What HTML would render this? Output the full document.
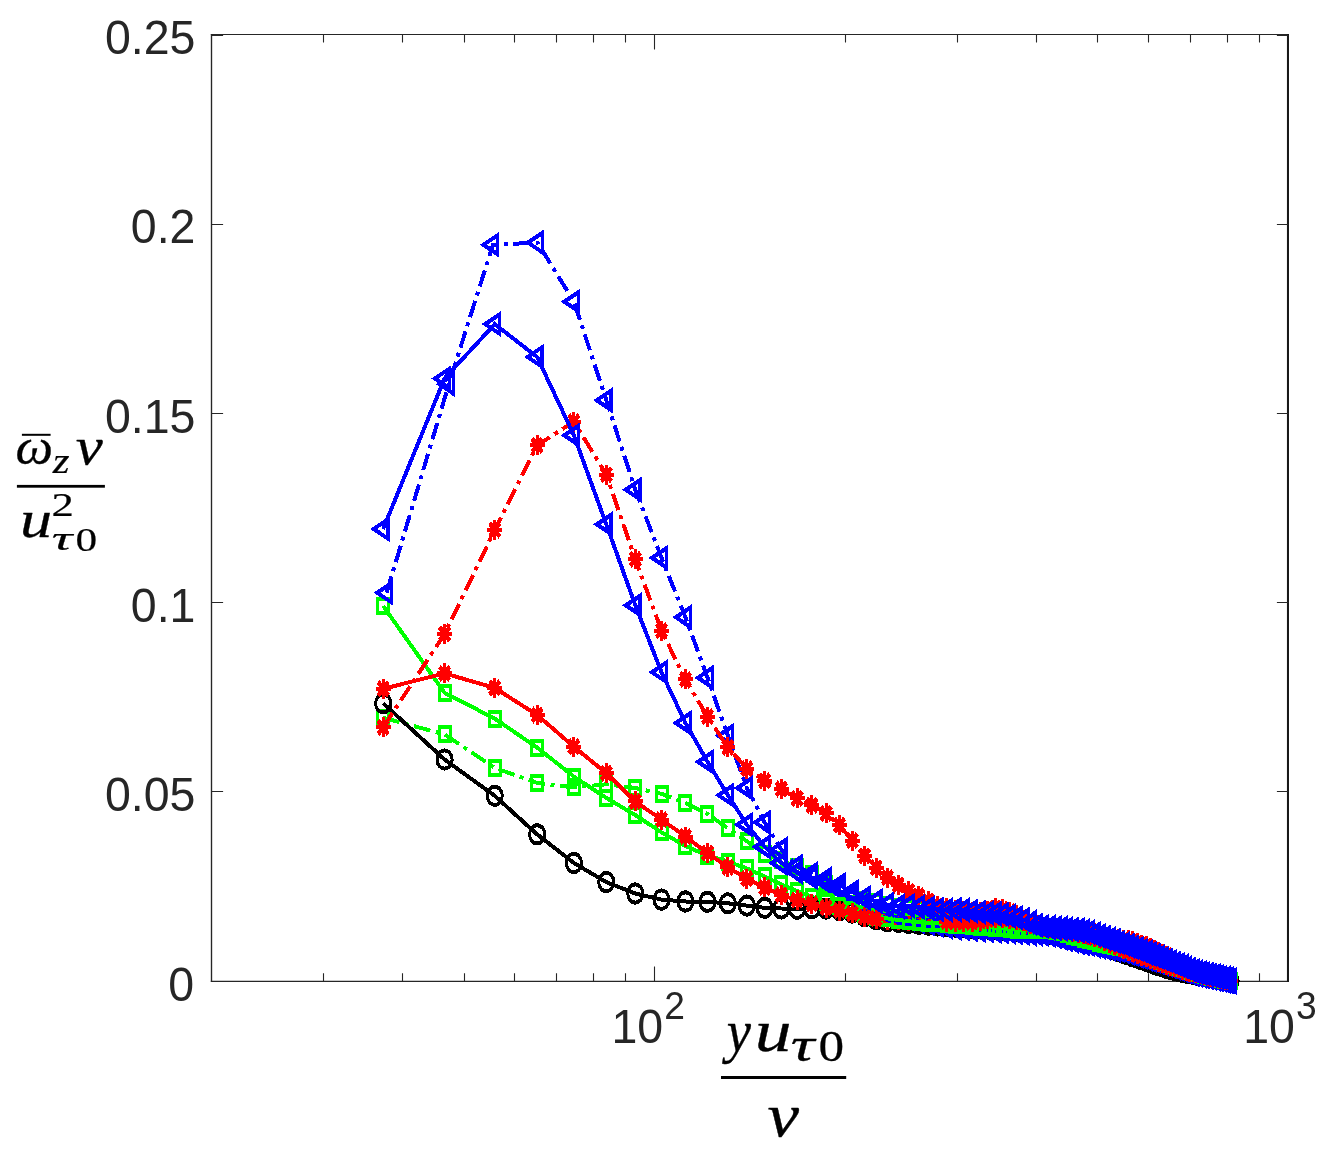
<!DOCTYPE html>
<html><head><meta charset="utf-8"><title>plot</title>
<style>html,body{margin:0;padding:0;background:#fff}svg{display:block}</style></head>
<body>
<svg width="1326" height="1149" viewBox="0 0 1326 1149">
<rect width="1326" height="1149" fill="#fff"/>
<g fill="none" stroke="#262626"><path d="M210.85 34.5H1288.99" stroke-width="1.1"/><path d="M210.85 981.4H1288.99" stroke-width="1.35"/><path d="M211.5 34V982" stroke-width="1.36"/><path d="M1287.97 34V982.05" stroke-width="2.04" stroke="#181818"/><path d="M211.5 791.5h11.6M1288.5 791.5h-11.6M211.5 602.5h11.6M1288.5 602.5h-11.6M211.5 413.5h11.6M1288.5 413.5h-11.6M211.5 224.5h11.6M1288.5 224.5h-11.6M211.5 35.5h11.6M1288.5 35.5h-11.6" stroke-width="1.15"/><path d="M654.5 981.4v-15M654.5 34.5v15M323.5 981.4v-8.1M323.5 34.5v8.1M402.5 981.4v-8.1M402.5 34.5v8.1M464.5 981.4v-8.1M464.5 34.5v8.1M514.5 981.4v-8.1M514.5 34.5v8.1M556.5 981.4v-8.1M556.5 34.5v8.1M593.5 981.4v-8.1M593.5 34.5v8.1M625.5 981.4v-8.1M625.5 34.5v8.1M845.5 981.4v-8.1M845.5 34.5v8.1M957.5 981.4v-8.1M957.5 34.5v8.1M1036.5 981.4v-8.1M1036.5 34.5v8.1M1097.5 981.4v-8.1M1097.5 34.5v8.1M1148.5 981.4v-8.1M1148.5 34.5v8.1M1190.5 981.4v-8.1M1190.5 34.5v8.1M1227.5 981.4v-8.1M1227.5 34.5v8.1M1259.5 981.4v-8.1M1259.5 34.5v8.1" stroke-width="1.1"/></g>
<g fill="none" stroke-width="3" stroke-linejoin="miter" stroke-miterlimit="10" stroke-linecap="butt" shape-rendering="crispEdges">
<g stroke="#00ff00"><polyline stroke-width="4" points="383.15,605.9 444.56,692.8 494.73,718.6 537.15,747.6 573.89,776.6 606.3,797.9 635.3,815.1 661.52,832.3 685.47,846 707.49,855.5 727.89,861.5 746.87,868.5 764.63,876.5 781.31,884.5 797.04,891 811.92,897 826.04,902"/><g transform="scale(1 1.3333333333333333)"><path d="M377.65 449.18h11v10.5h-11ZM439.06 514.35h11v10.5h-11ZM489.23 533.7h11v10.5h-11ZM531.65 555.45h11v10.5h-11ZM568.39 577.2h11v10.5h-11ZM600.8 593.18h11v10.5h-11ZM629.8 606.08h11v10.5h-11ZM656.02 618.98h11v10.5h-11ZM679.97 629.25h11v10.5h-11ZM701.99 636.38h11v10.5h-11ZM722.39 640.88h11v10.5h-11ZM741.37 646.12h11v10.5h-11ZM759.13 652.12h11v10.5h-11ZM775.81 658.12h11v10.5h-11ZM791.54 663h11v10.5h-11ZM806.42 667.5h11v10.5h-11ZM820.54 671.25h11v10.5h-11Z"/></g></g>
<g stroke="#00ff00"><polyline stroke-width="4" points="383.15,717.7 444.56,734.4 494.73,767.9 537.15,782.9 573.89,787.4 606.3,784.3 635.3,788 661.52,793.9 685.47,802.8 707.49,814 727.89,828.3 746.87,841.2 764.63,854 781.31,860.5 797.04,867 811.92,874 826.04,884 839.46,892 852.26,897 864.49,900 876.21,902.5 887.44,904.62 898.23,906.67 908.62,907.86 918.63,908.86 928.28,909.83 937.61,910.76 946.63,911.66 955.37,912.64 963.84,913.66 972.05,914.65 980.03,915.6 987.78,916.53 995.32,917.44 1002.66,918.6 1009.81,920.21 1016.77,921.77 1023.57,923.3 1030.2,924.79 1036.68,926.25 1043,927.6 1049.19,928.84 1055.23,930.05 1061.15,931.23 1066.94,932.39 1072.62,933.52 1078.18,934.95 1083.63,936.57 1088.97,938.16 1094.21,939.72 1099.36,941.25 1104.41,942.76 1109.36,944.24 1114.23,945.69 1119.02,947.11 1123.72,948.57 1128.35,950.1 1132.9,951.61 1137.37,953.09 1141.77,954.55 1146.11,955.98 1150.37,957.39 1154.58,958.78 1158.71,960.15 1162.79,961.5 1166.81,962.87 1170.77,964.33 1174.67,965.77 1178.52,967.19 1182.32,968.59 1186.06,969.97 1189.75,971.33 1193.4,972.67 1196.99,974 1200.55,974.74 1204.05,975.47 1207.51,976.19 1210.93,976.9 1214.31,977.61 1217.64,978.3 1220.94,978.99 1224.19,979.67 1227.41,980.34 1230.59,981" stroke-dasharray="17 5.5 4 5.5"/><g transform="scale(1 1.3333333333333333)"><path d="M377.65 533.03h11v10.5h-11ZM439.06 545.55h11v10.5h-11ZM489.23 570.68h11v10.5h-11ZM531.65 581.93h11v10.5h-11ZM568.39 585.3h11v10.5h-11ZM600.8 582.98h11v10.5h-11ZM629.8 585.75h11v10.5h-11ZM656.02 590.18h11v10.5h-11ZM679.97 596.85h11v10.5h-11ZM701.99 605.25h11v10.5h-11ZM722.39 615.98h11v10.5h-11ZM741.37 625.65h11v10.5h-11ZM759.13 635.25h11v10.5h-11ZM775.81 640.12h11v10.5h-11ZM791.54 645h11v10.5h-11ZM806.42 650.25h11v10.5h-11ZM820.54 657.75h11v10.5h-11ZM833.96 663.75h11v10.5h-11ZM846.76 667.5h11v10.5h-11ZM858.99 669.75h11v10.5h-11ZM870.71 671.62h11v10.5h-11ZM881.94 673.22h11v10.5h-11ZM892.73 674.75h11v10.5h-11ZM903.12 675.65h11v10.5h-11ZM913.13 676.4h11v10.5h-11ZM922.78 677.12h11v10.5h-11ZM932.11 677.82h11v10.5h-11ZM941.13 678.5h11v10.5h-11ZM949.87 679.23h11v10.5h-11ZM958.34 680h11v10.5h-11ZM966.55 680.73h11v10.5h-11ZM974.53 681.45h11v10.5h-11ZM982.28 682.15h11v10.5h-11ZM989.82 682.83h11v10.5h-11ZM997.16 683.7h11v10.5h-11ZM1004.31 684.9h11v10.5h-11ZM1011.27 686.08h11v10.5h-11ZM1018.07 687.23h11v10.5h-11ZM1024.7 688.35h11v10.5h-11ZM1031.18 689.44h11v10.5h-11ZM1037.5 690.45h11v10.5h-11ZM1043.69 691.38h11v10.5h-11ZM1049.73 692.28h11v10.5h-11ZM1055.65 693.17h11v10.5h-11ZM1061.44 694.04h11v10.5h-11ZM1067.12 694.89h11v10.5h-11ZM1072.68 695.96h11v10.5h-11ZM1078.13 697.18h11v10.5h-11ZM1083.47 698.37h11v10.5h-11ZM1088.71 699.54h11v10.5h-11ZM1093.86 700.69h11v10.5h-11ZM1098.91 701.82h11v10.5h-11ZM1103.86 702.93h11v10.5h-11ZM1108.73 704.02h11v10.5h-11ZM1113.52 705.08h11v10.5h-11ZM1118.22 706.18h11v10.5h-11ZM1122.85 707.33h11v10.5h-11ZM1127.4 708.46h11v10.5h-11ZM1131.87 709.57h11v10.5h-11ZM1136.27 710.66h11v10.5h-11ZM1140.61 711.74h11v10.5h-11ZM1144.87 712.8h11v10.5h-11ZM1149.08 713.84h11v10.5h-11ZM1153.21 714.87h11v10.5h-11ZM1157.29 715.88h11v10.5h-11ZM1161.31 716.9h11v10.5h-11ZM1165.27 718h11v10.5h-11ZM1169.17 719.08h11v10.5h-11ZM1173.02 720.14h11v10.5h-11ZM1176.82 721.19h11v10.5h-11ZM1180.56 722.23h11v10.5h-11ZM1184.25 723.25h11v10.5h-11ZM1187.9 724.25h11v10.5h-11ZM1191.49 725.25h11v10.5h-11ZM1195.05 725.8h11v10.5h-11ZM1198.55 726.35h11v10.5h-11ZM1202.01 726.89h11v10.5h-11ZM1205.43 727.43h11v10.5h-11ZM1208.81 727.95h11v10.5h-11ZM1212.14 728.48h11v10.5h-11ZM1215.44 728.99h11v10.5h-11ZM1218.69 729.5h11v10.5h-11ZM1221.91 730h11v10.5h-11ZM1225.09 730.5h11v10.5h-11Z"/></g></g>
<g stroke="#000000"><polyline stroke-width="4" points="383.15,703.3 444.56,759.5 494.73,795.8 537.15,834.4 573.89,863 606.3,882.1 635.3,893.5 661.52,899.6 685.47,901.5 707.49,901.8 727.89,903.3 746.87,905.6 764.63,907.8 781.31,908.5 797.04,908.8 811.92,908.2 826.04,908.6 839.46,910.2 852.26,912.6 864.49,916.3 876.21,919.3 887.44,921.3 898.23,922 908.62,923 918.63,923.84 928.28,924.65 937.61,925.43 946.63,926.19 955.37,926.71 963.84,927.22 972.05,927.7 980.03,928.18 987.78,928.64 995.32,929.1 1002.66,929.58 1009.81,930.04 1016.77,930.49 1023.57,930.93 1030.2,931.36 1036.68,931.78 1043,932.51 1049.19,933.57 1055.23,934.61 1061.15,935.62 1066.94,936.61 1072.62,937.58 1078.18,938.55 1083.63,940.03 1088.97,941.49 1094.21,942.92 1099.36,944.32 1104.41,946.06 1109.36,947.82 1114.23,949.55 1119.02,951.24 1123.72,952.91 1128.35,954.53 1132.9,956.13 1137.37,957.7 1141.77,959.25 1146.11,960.78 1150.37,962.28 1154.58,963.75 1158.71,965.21 1162.79,966.64 1166.81,967.95 1170.77,968.94 1174.67,969.92 1178.52,970.88 1182.32,971.83 1186.06,972.68 1189.75,973.29 1193.4,973.9 1196.99,974.5 1200.55,975.11 1204.05,975.82 1207.51,976.52 1210.93,977.21 1214.31,977.9 1217.64,978.57 1220.94,979.24 1224.19,979.9 1227.41,980.55 1230.59,981.2"/><g transform="scale(1 1.3333333333333333)"><path d="M375.6 527.48a7.55 6.85 0 1 0 15.1 0a7.55 6.85 0 1 0 -15.1 0ZM437.01 569.62a7.55 6.85 0 1 0 15.1 0a7.55 6.85 0 1 0 -15.1 0ZM487.18 596.85a7.55 6.85 0 1 0 15.1 0a7.55 6.85 0 1 0 -15.1 0ZM529.6 625.8a7.55 6.85 0 1 0 15.1 0a7.55 6.85 0 1 0 -15.1 0ZM566.34 647.25a7.55 6.85 0 1 0 15.1 0a7.55 6.85 0 1 0 -15.1 0ZM598.75 661.58a7.55 6.85 0 1 0 15.1 0a7.55 6.85 0 1 0 -15.1 0ZM627.75 670.12a7.55 6.85 0 1 0 15.1 0a7.55 6.85 0 1 0 -15.1 0ZM653.97 674.7a7.55 6.85 0 1 0 15.1 0a7.55 6.85 0 1 0 -15.1 0ZM677.92 676.12a7.55 6.85 0 1 0 15.1 0a7.55 6.85 0 1 0 -15.1 0ZM699.94 676.35a7.55 6.85 0 1 0 15.1 0a7.55 6.85 0 1 0 -15.1 0ZM720.34 677.48a7.55 6.85 0 1 0 15.1 0a7.55 6.85 0 1 0 -15.1 0ZM739.32 679.2a7.55 6.85 0 1 0 15.1 0a7.55 6.85 0 1 0 -15.1 0ZM757.08 680.85a7.55 6.85 0 1 0 15.1 0a7.55 6.85 0 1 0 -15.1 0ZM773.76 681.38a7.55 6.85 0 1 0 15.1 0a7.55 6.85 0 1 0 -15.1 0ZM789.49 681.6a7.55 6.85 0 1 0 15.1 0a7.55 6.85 0 1 0 -15.1 0ZM804.37 681.15a7.55 6.85 0 1 0 15.1 0a7.55 6.85 0 1 0 -15.1 0ZM818.49 681.45a7.55 6.85 0 1 0 15.1 0a7.55 6.85 0 1 0 -15.1 0ZM831.91 682.65a7.55 6.85 0 1 0 15.1 0a7.55 6.85 0 1 0 -15.1 0ZM844.71 684.45a7.55 6.85 0 1 0 15.1 0a7.55 6.85 0 1 0 -15.1 0ZM856.94 687.23a7.55 6.85 0 1 0 15.1 0a7.55 6.85 0 1 0 -15.1 0ZM868.66 689.48a7.55 6.85 0 1 0 15.1 0a7.55 6.85 0 1 0 -15.1 0ZM879.89 690.98a7.55 6.85 0 1 0 15.1 0a7.55 6.85 0 1 0 -15.1 0ZM890.68 691.5a7.55 6.85 0 1 0 15.1 0a7.55 6.85 0 1 0 -15.1 0ZM901.07 692.25a7.55 6.85 0 1 0 15.1 0a7.55 6.85 0 1 0 -15.1 0ZM911.08 692.88a7.55 6.85 0 1 0 15.1 0a7.55 6.85 0 1 0 -15.1 0ZM920.73 693.49a7.55 6.85 0 1 0 15.1 0a7.55 6.85 0 1 0 -15.1 0ZM930.06 694.07a7.55 6.85 0 1 0 15.1 0a7.55 6.85 0 1 0 -15.1 0ZM939.08 694.64a7.55 6.85 0 1 0 15.1 0a7.55 6.85 0 1 0 -15.1 0ZM947.82 695.03a7.55 6.85 0 1 0 15.1 0a7.55 6.85 0 1 0 -15.1 0ZM956.29 695.41a7.55 6.85 0 1 0 15.1 0a7.55 6.85 0 1 0 -15.1 0ZM964.5 695.78a7.55 6.85 0 1 0 15.1 0a7.55 6.85 0 1 0 -15.1 0ZM972.48 696.13a7.55 6.85 0 1 0 15.1 0a7.55 6.85 0 1 0 -15.1 0ZM980.23 696.48a7.55 6.85 0 1 0 15.1 0a7.55 6.85 0 1 0 -15.1 0ZM987.77 696.82a7.55 6.85 0 1 0 15.1 0a7.55 6.85 0 1 0 -15.1 0ZM995.11 697.18a7.55 6.85 0 1 0 15.1 0a7.55 6.85 0 1 0 -15.1 0ZM1002.26 697.53a7.55 6.85 0 1 0 15.1 0a7.55 6.85 0 1 0 -15.1 0ZM1009.22 697.87a7.55 6.85 0 1 0 15.1 0a7.55 6.85 0 1 0 -15.1 0ZM1016.02 698.2a7.55 6.85 0 1 0 15.1 0a7.55 6.85 0 1 0 -15.1 0ZM1022.65 698.52a7.55 6.85 0 1 0 15.1 0a7.55 6.85 0 1 0 -15.1 0ZM1029.13 698.84a7.55 6.85 0 1 0 15.1 0a7.55 6.85 0 1 0 -15.1 0ZM1035.45 699.39a7.55 6.85 0 1 0 15.1 0a7.55 6.85 0 1 0 -15.1 0ZM1041.64 700.18a7.55 6.85 0 1 0 15.1 0a7.55 6.85 0 1 0 -15.1 0ZM1047.68 700.95a7.55 6.85 0 1 0 15.1 0a7.55 6.85 0 1 0 -15.1 0ZM1053.6 701.71a7.55 6.85 0 1 0 15.1 0a7.55 6.85 0 1 0 -15.1 0ZM1059.39 702.46a7.55 6.85 0 1 0 15.1 0a7.55 6.85 0 1 0 -15.1 0ZM1065.07 703.18a7.55 6.85 0 1 0 15.1 0a7.55 6.85 0 1 0 -15.1 0ZM1070.63 703.91a7.55 6.85 0 1 0 15.1 0a7.55 6.85 0 1 0 -15.1 0ZM1076.08 705.03a7.55 6.85 0 1 0 15.1 0a7.55 6.85 0 1 0 -15.1 0ZM1081.42 706.12a7.55 6.85 0 1 0 15.1 0a7.55 6.85 0 1 0 -15.1 0ZM1086.66 707.19a7.55 6.85 0 1 0 15.1 0a7.55 6.85 0 1 0 -15.1 0ZM1091.81 708.24a7.55 6.85 0 1 0 15.1 0a7.55 6.85 0 1 0 -15.1 0ZM1096.86 709.55a7.55 6.85 0 1 0 15.1 0a7.55 6.85 0 1 0 -15.1 0ZM1101.81 710.86a7.55 6.85 0 1 0 15.1 0a7.55 6.85 0 1 0 -15.1 0ZM1106.68 712.16a7.55 6.85 0 1 0 15.1 0a7.55 6.85 0 1 0 -15.1 0ZM1111.47 713.43a7.55 6.85 0 1 0 15.1 0a7.55 6.85 0 1 0 -15.1 0ZM1116.17 714.68a7.55 6.85 0 1 0 15.1 0a7.55 6.85 0 1 0 -15.1 0ZM1120.8 715.9a7.55 6.85 0 1 0 15.1 0a7.55 6.85 0 1 0 -15.1 0ZM1125.35 717.1a7.55 6.85 0 1 0 15.1 0a7.55 6.85 0 1 0 -15.1 0ZM1129.82 718.28a7.55 6.85 0 1 0 15.1 0a7.55 6.85 0 1 0 -15.1 0ZM1134.22 719.44a7.55 6.85 0 1 0 15.1 0a7.55 6.85 0 1 0 -15.1 0ZM1138.56 720.58a7.55 6.85 0 1 0 15.1 0a7.55 6.85 0 1 0 -15.1 0ZM1142.82 721.71a7.55 6.85 0 1 0 15.1 0a7.55 6.85 0 1 0 -15.1 0ZM1147.03 722.82a7.55 6.85 0 1 0 15.1 0a7.55 6.85 0 1 0 -15.1 0ZM1151.16 723.91a7.55 6.85 0 1 0 15.1 0a7.55 6.85 0 1 0 -15.1 0ZM1155.24 724.98a7.55 6.85 0 1 0 15.1 0a7.55 6.85 0 1 0 -15.1 0ZM1159.26 725.96a7.55 6.85 0 1 0 15.1 0a7.55 6.85 0 1 0 -15.1 0ZM1163.22 726.71a7.55 6.85 0 1 0 15.1 0a7.55 6.85 0 1 0 -15.1 0ZM1167.12 727.44a7.55 6.85 0 1 0 15.1 0a7.55 6.85 0 1 0 -15.1 0ZM1170.97 728.16a7.55 6.85 0 1 0 15.1 0a7.55 6.85 0 1 0 -15.1 0ZM1174.77 728.87a7.55 6.85 0 1 0 15.1 0a7.55 6.85 0 1 0 -15.1 0ZM1178.51 729.51a7.55 6.85 0 1 0 15.1 0a7.55 6.85 0 1 0 -15.1 0ZM1182.2 729.97a7.55 6.85 0 1 0 15.1 0a7.55 6.85 0 1 0 -15.1 0ZM1185.85 730.42a7.55 6.85 0 1 0 15.1 0a7.55 6.85 0 1 0 -15.1 0ZM1189.44 730.87a7.55 6.85 0 1 0 15.1 0a7.55 6.85 0 1 0 -15.1 0ZM1193 731.33a7.55 6.85 0 1 0 15.1 0a7.55 6.85 0 1 0 -15.1 0ZM1196.5 731.87a7.55 6.85 0 1 0 15.1 0a7.55 6.85 0 1 0 -15.1 0ZM1199.96 732.39a7.55 6.85 0 1 0 15.1 0a7.55 6.85 0 1 0 -15.1 0ZM1203.38 732.91a7.55 6.85 0 1 0 15.1 0a7.55 6.85 0 1 0 -15.1 0ZM1206.76 733.42a7.55 6.85 0 1 0 15.1 0a7.55 6.85 0 1 0 -15.1 0ZM1210.09 733.93a7.55 6.85 0 1 0 15.1 0a7.55 6.85 0 1 0 -15.1 0ZM1213.39 734.43a7.55 6.85 0 1 0 15.1 0a7.55 6.85 0 1 0 -15.1 0ZM1216.64 734.93a7.55 6.85 0 1 0 15.1 0a7.55 6.85 0 1 0 -15.1 0ZM1219.86 735.42a7.55 6.85 0 1 0 15.1 0a7.55 6.85 0 1 0 -15.1 0ZM1223.04 735.9a7.55 6.85 0 1 0 15.1 0a7.55 6.85 0 1 0 -15.1 0Z"/></g></g>
<g stroke="#ff0000"><polyline stroke-width="4" points="876.21,918.8 887.44,919.5 898.23,920.16 908.62,920.79 918.63,921.21 928.28,921.5 937.61,921.5 946.63,921.5"/><g transform="scale(1 1.3333333333333333)"><path d="M868.71 689.1h15M876.21 681.6v15M879.94 689.63h15M887.44 682.13v15M890.73 690.12h15M898.23 682.62v15M901.12 690.6h15M908.62 683.1v15M911.13 690.91h15M918.63 683.41v15M920.78 691.12h15M928.28 683.62v15M930.11 691.12h15M937.61 683.62v15M939.13 691.13h15M946.63 683.63v15"/><path stroke-width="4" d="M871.12 684.01l10.18 10.18M871.12 694.19l10.18 -10.18M882.35 684.54l10.18 10.18M882.35 694.72l10.18 -10.18M893.14 685.03l10.18 10.18M893.14 695.21l10.18 -10.18M903.53 685.5l10.18 10.18M903.53 695.69l10.18 -10.18M913.53 685.81l10.18 10.18M913.53 696l10.18 -10.18M923.19 686.03l10.18 10.18M923.19 696.22l10.18 -10.18M932.52 686.03l10.18 10.18M932.52 696.22l10.18 -10.18M941.54 686.03l10.18 10.18M941.54 696.22l10.18 -10.18"/></g></g>
<g stroke="#0000ff"><polyline stroke-width="4" points="386.65,592.7 448.86,384.2 492.93,244.8 537.45,242.6 573.89,301.6 606.3,400.2 635.3,489.8 661.52,557.8 685.47,617.3 707.49,677.7 727.89,735.7 746.87,788 764.63,822.4 781.31,849.5 797.04,866.2 811.92,874 826.04,882 839.46,889.5 852.26,897 864.49,903.5 876.21,909.4 887.44,913.41 898.23,916.41 908.62,918.9 918.63,921.41 928.28,923.4 937.61,925.18 946.63,926.9 955.37,927.88 963.84,928.82 972.05,929.74 980.03,930.47 987.78,930.73 995.32,931.08 1002.66,931.59 1009.81,932.08 1016.77,932.56 1023.57,933.03 1030.2,933.49 1036.68,933.95 1043,934.4 1049.19,934.84 1055.23,936.37 1061.15,938.04 1066.94,939.62 1072.62,940.94 1078.18,942.23 1083.63,943.5 1088.97,944.58 1094.21,945.62 1099.36,946.64 1104.41,947.64 1109.36,948.62 1114.23,949.58 1119.02,950.53 1123.72,951.61 1128.35,953.06 1132.9,954.49 1137.37,955.89 1141.77,957.27 1146.11,958.63 1150.37,959.97 1154.58,961.28 1158.71,962.58 1162.79,963.86 1166.81,965.15 1170.77,966.51 1174.67,967.86 1178.52,969.19 1182.32,970.49 1186.06,971.79 1189.75,973.06 1193.4,974.32 1196.99,975.25 1200.55,975.99 1204.05,976.71 1207.51,977.43 1210.93,978.13 1214.31,978.83 1217.64,979.52 1220.94,980.2 1224.19,980.88 1227.41,981.54 1230.59,982.2" stroke-dasharray="17 5.5 4 5.5"/><g transform="scale(1 1.3333333333333333)"><path stroke-width="3.3" d="M377.09 444.53L391.44 437.33L391.44 451.73ZM439.29 288.15L453.64 280.95L453.64 295.35ZM483.36 183.6L497.71 176.4L497.71 190.8ZM527.88 181.95L542.23 174.75L542.23 189.15ZM564.33 226.2L578.68 219L578.68 233.4ZM596.74 300.15L611.09 292.95L611.09 307.35ZM625.73 367.35L640.08 360.15L640.08 374.55ZM651.96 418.35L666.31 411.15L666.31 425.55ZM675.9 462.97L690.25 455.77L690.25 470.17ZM697.93 508.28L712.28 501.08L712.28 515.48ZM718.32 551.78L732.67 544.58L732.67 558.98ZM737.31 591L751.66 583.8L751.66 598.2ZM755.06 616.8L769.41 609.6L769.41 624ZM771.75 637.12L786.1 629.92L786.1 644.33ZM787.48 649.65L801.83 642.45L801.83 656.85ZM802.35 655.5L816.7 648.3L816.7 662.7ZM816.47 661.5L830.82 654.3L830.82 668.7ZM829.89 667.12L844.24 659.92L844.24 674.33ZM842.7 672.75L857.05 665.55L857.05 679.95ZM854.93 677.62L869.28 670.42L869.28 684.83ZM866.64 682.05L880.99 674.85L880.99 689.25ZM877.87 685.06L892.22 677.86L892.22 692.26ZM888.67 687.31L903.02 680.11L903.02 694.51ZM899.05 689.18L913.4 681.98L913.4 696.38ZM909.06 691.05L923.41 683.85L923.41 698.25ZM918.71 692.55L933.06 685.35L933.06 699.75ZM928.04 693.89L942.39 686.69L942.39 701.09ZM937.07 695.18L951.42 687.98L951.42 702.38ZM945.8 695.91L960.15 688.71L960.15 703.11ZM954.27 696.62L968.62 689.42L968.62 703.82ZM962.49 697.3L976.84 690.1L976.84 704.5ZM970.46 697.85L984.81 690.65L984.81 705.05ZM978.21 698.05L992.56 690.85L992.56 705.25ZM985.75 698.31L1000.1 691.11L1000.1 705.51ZM993.09 698.69L1007.44 691.49L1007.44 705.89ZM1000.24 699.06L1014.59 691.86L1014.59 706.26ZM1007.21 699.42L1021.56 692.22L1021.56 706.62ZM1014 699.77L1028.35 692.57L1028.35 706.97ZM1020.63 700.11L1034.98 692.91L1034.98 707.31ZM1027.11 700.46L1041.46 693.26L1041.46 707.66ZM1033.43 700.8L1047.78 693.6L1047.78 708ZM1039.62 701.13L1053.97 693.93L1053.97 708.33ZM1045.67 702.28L1060.02 695.08L1060.02 709.48ZM1051.58 703.53L1065.93 696.33L1065.93 710.73ZM1057.38 704.71L1071.73 697.51L1071.73 711.91ZM1063.05 705.7L1077.4 698.5L1077.4 712.9ZM1068.61 706.67L1082.96 699.47L1082.96 713.87ZM1074.06 707.62L1088.41 700.42L1088.41 714.82ZM1079.4 708.44L1093.75 701.24L1093.75 715.64ZM1084.65 709.22L1099 702.02L1099 716.42ZM1089.79 709.98L1104.14 702.78L1104.14 717.18ZM1094.84 710.73L1109.19 703.53L1109.19 717.93ZM1099.8 711.47L1114.15 704.27L1114.15 718.67ZM1104.67 712.19L1119.02 704.99L1119.02 719.39ZM1109.45 712.9L1123.8 705.7L1123.8 720.1ZM1114.16 713.71L1128.51 706.51L1128.51 720.91ZM1118.78 714.8L1133.13 707.6L1133.13 722ZM1123.33 715.87L1137.68 708.67L1137.68 723.07ZM1127.81 716.92L1142.16 709.72L1142.16 724.12ZM1132.21 717.95L1146.56 710.75L1146.56 725.15ZM1136.54 718.97L1150.89 711.77L1150.89 726.17ZM1140.81 719.97L1155.16 712.77L1155.16 727.17ZM1145.01 720.96L1159.36 713.76L1159.36 728.16ZM1149.15 721.93L1163.5 714.73L1163.5 729.13ZM1153.22 722.89L1167.57 715.69L1167.57 730.09ZM1157.24 723.86L1171.59 716.66L1171.59 731.06ZM1161.2 724.88L1175.55 717.68L1175.55 732.08ZM1165.1 725.89L1179.45 718.69L1179.45 733.09ZM1168.95 726.89L1183.3 719.69L1183.3 734.09ZM1172.75 727.87L1187.1 720.67L1187.1 735.07ZM1176.49 728.84L1190.84 721.64L1190.84 736.04ZM1180.19 729.79L1194.54 722.59L1194.54 736.99ZM1183.83 730.74L1198.18 723.54L1198.18 737.94ZM1187.43 731.44L1201.78 724.24L1201.78 738.64ZM1190.98 731.99L1205.33 724.79L1205.33 739.19ZM1194.48 732.53L1208.83 725.33L1208.83 739.73ZM1197.95 733.07L1212.3 725.87L1212.3 740.27ZM1201.36 733.6L1215.71 726.4L1215.71 740.8ZM1204.74 734.12L1219.09 726.92L1219.09 741.32ZM1208.08 734.64L1222.43 727.44L1222.43 741.84ZM1211.37 735.15L1225.72 727.95L1225.72 742.35ZM1214.63 735.66L1228.98 728.46L1228.98 742.86ZM1217.85 736.16L1232.2 728.96L1232.2 743.36ZM1221.03 736.65L1235.38 729.45L1235.38 743.85Z"/></g></g>
<g stroke="#ff0000"><polyline stroke-width="4" points="383.15,727.3 444.56,634 494.73,530 537.15,445.3 573.89,421.7 606.3,474.6 635.3,559.3 661.52,630.7 685.47,679.5 707.49,716.7 727.89,747.3 746.87,768.6 764.63,780.8 781.31,789 797.04,798.4 811.92,805.2 826.04,813.4 839.46,825.2 852.26,840.5 864.49,855.9 876.21,867.7 887.44,877.6 898.23,884.9 908.62,891.2 918.63,895.7 928.28,901 937.61,906 946.63,908 955.37,910 963.84,911 972.05,912 980.03,912 987.78,911 995.32,908 1002.66,909 1009.81,911.6 1016.77,915 1023.57,920 1030.2,925 1036.68,926.31 1043,927.59 1049.19,928.84 1055.23,929.21 1061.15,929.45 1066.94,929.68 1072.62,929.9 1078.18,930.51 1083.63,931.38 1088.97,932.24 1094.21,933.07 1099.36,933.9 1104.41,935.1 1109.36,936.34 1114.23,937.56 1119.02,938.75 1123.72,939.66 1128.35,940.49 1132.9,941.3 1137.37,943.05 1141.77,944.78 1146.11,946.48 1150.37,948.18 1154.58,950.21 1158.71,952.21 1162.79,954.18 1166.81,956.12 1170.77,958.42 1174.67,960.78 1178.52,963.1 1182.32,965.09 1186.06,966.85 1189.75,968.59 1193.4,970.3 1196.99,972 1200.55,972.94 1204.05,973.87 1207.51,974.78 1210.93,975.69 1214.31,976.58 1217.64,977.47 1220.94,978.34 1224.19,979.2 1227.41,980.06 1230.59,980.9" stroke-dasharray="17 5.5 4 5.5"/><g transform="scale(1 1.3333333333333333)"><path d="M375.65 545.48h15M383.15 537.98v15M437.06 475.5h15M444.56 468v15M487.23 397.5h15M494.73 390v15M529.65 333.98h15M537.15 326.48v15M566.39 316.28h15M573.89 308.78v15M598.8 355.95h15M606.3 348.45v15M627.8 419.47h15M635.3 411.97v15M654.02 473.03h15M661.52 465.53v15M677.97 509.62h15M685.47 502.12v15M699.99 537.53h15M707.49 530.03v15M720.39 560.48h15M727.89 552.98v15M739.37 576.45h15M746.87 568.95v15M757.13 585.6h15M764.63 578.1v15M773.81 591.75h15M781.31 584.25v15M789.54 598.8h15M797.04 591.3v15M804.42 603.9h15M811.92 596.4v15M818.54 610.05h15M826.04 602.55v15M831.96 618.9h15M839.46 611.4v15M844.76 630.38h15M852.26 622.88v15M856.99 641.93h15M864.49 634.43v15M868.71 650.78h15M876.21 643.28v15M879.94 658.2h15M887.44 650.7v15M890.73 663.68h15M898.23 656.18v15M901.12 668.4h15M908.62 660.9v15M911.13 671.78h15M918.63 664.28v15M920.78 675.75h15M928.28 668.25v15M930.11 679.5h15M937.61 672v15M939.13 681h15M946.63 673.5v15M947.87 682.5h15M955.37 675v15M956.34 683.25h15M963.84 675.75v15M964.55 684h15M972.05 676.5v15M972.53 684h15M980.03 676.5v15M980.28 683.25h15M987.78 675.75v15M987.82 681h15M995.32 673.5v15M995.16 681.75h15M1002.66 674.25v15M1002.31 683.7h15M1009.81 676.2v15M1009.27 686.25h15M1016.77 678.75v15M1016.07 690h15M1023.57 682.5v15M1022.7 693.75h15M1030.2 686.25v15M1029.18 694.73h15M1036.68 687.23v15M1035.5 695.69h15M1043 688.19v15M1041.69 696.63h15M1049.19 689.13v15M1047.73 696.91h15M1055.23 689.41v15M1053.65 697.08h15M1061.15 689.58v15M1059.44 697.26h15M1066.94 689.76v15M1065.12 697.43h15M1072.62 689.93v15M1070.68 697.88h15M1078.18 690.38v15M1076.13 698.54h15M1083.63 691.04v15M1081.47 699.18h15M1088.97 691.68v15M1086.71 699.81h15M1094.21 692.31v15M1091.86 700.42h15M1099.36 692.92v15M1096.91 701.33h15M1104.41 693.83v15M1101.86 702.26h15M1109.36 694.76v15M1106.73 703.17h15M1114.23 695.67v15M1111.52 704.07h15M1119.02 696.57v15M1116.22 704.75h15M1123.72 697.25v15M1120.85 705.37h15M1128.35 697.87v15M1125.4 705.97h15M1132.9 698.47v15M1129.87 707.29h15M1137.37 699.79v15M1134.27 708.58h15M1141.77 701.08v15M1138.61 709.86h15M1146.11 702.36v15M1142.87 711.14h15M1150.37 703.64v15M1147.08 712.66h15M1154.58 705.16v15M1151.21 714.16h15M1158.71 706.66v15M1155.29 715.63h15M1162.79 708.13v15M1159.31 717.09h15M1166.81 709.59v15M1163.27 718.81h15M1170.77 711.31v15M1167.17 720.58h15M1174.67 713.08v15M1171.02 722.33h15M1178.52 714.83v15M1174.82 723.82h15M1182.32 716.32v15M1178.56 725.14h15M1186.06 717.64v15M1182.25 726.44h15M1189.75 718.94v15M1185.9 727.73h15M1193.4 720.23v15M1189.49 729h15M1196.99 721.5v15M1193.05 729.7h15M1200.55 722.2v15M1196.55 730.4h15M1204.05 722.9v15M1200.01 731.09h15M1207.51 723.59v15M1203.43 731.77h15M1210.93 724.27v15M1206.81 732.44h15M1214.31 724.94v15M1210.14 733.1h15M1217.64 725.6v15M1213.44 733.76h15M1220.94 726.26v15M1216.69 734.4h15M1224.19 726.9v15M1219.91 735.04h15M1227.41 727.54v15M1223.09 735.67h15M1230.59 728.17v15"/><path stroke-width="4" d="M378.06 540.38l10.18 10.18M378.06 550.57l10.18 -10.18M439.47 470.41l10.18 10.18M439.47 480.59l10.18 -10.18M489.64 392.41l10.18 10.18M489.64 402.59l10.18 -10.18M532.06 328.88l10.18 10.18M532.06 339.07l10.18 -10.18M568.8 311.18l10.18 10.18M568.8 321.37l10.18 -10.18M601.21 350.86l10.18 10.18M601.21 361.04l10.18 -10.18M630.21 414.38l10.18 10.18M630.21 424.57l10.18 -10.18M656.43 467.93l10.18 10.18M656.43 478.12l10.18 -10.18M680.38 504.53l10.18 10.18M680.38 514.72l10.18 -10.18M702.4 532.43l10.18 10.18M702.4 542.62l10.18 -10.18M722.8 555.38l10.18 10.18M722.8 565.57l10.18 -10.18M741.78 571.36l10.18 10.18M741.78 581.54l10.18 -10.18M759.54 580.51l10.18 10.18M759.54 590.69l10.18 -10.18M776.22 586.66l10.18 10.18M776.22 596.84l10.18 -10.18M791.95 593.71l10.18 10.18M791.95 603.89l10.18 -10.18M806.83 598.81l10.18 10.18M806.83 608.99l10.18 -10.18M820.94 604.96l10.18 10.18M820.94 615.14l10.18 -10.18M834.37 613.81l10.18 10.18M834.37 623.99l10.18 -10.18M847.17 625.28l10.18 10.18M847.17 635.47l10.18 -10.18M859.4 636.83l10.18 10.18M859.4 647.02l10.18 -10.18M871.12 645.68l10.18 10.18M871.12 655.87l10.18 -10.18M882.35 653.11l10.18 10.18M882.35 663.29l10.18 -10.18M893.14 658.58l10.18 10.18M893.14 668.77l10.18 -10.18M903.53 663.31l10.18 10.18M903.53 673.49l10.18 -10.18M913.53 666.68l10.18 10.18M913.53 676.87l10.18 -10.18M923.19 670.66l10.18 10.18M923.19 680.84l10.18 -10.18M932.52 674.41l10.18 10.18M932.52 684.59l10.18 -10.18M941.54 675.91l10.18 10.18M941.54 686.09l10.18 -10.18M950.28 677.41l10.18 10.18M950.28 687.59l10.18 -10.18M958.75 678.16l10.18 10.18M958.75 688.34l10.18 -10.18M966.96 678.91l10.18 10.18M966.96 689.09l10.18 -10.18M974.94 678.91l10.18 10.18M974.94 689.09l10.18 -10.18M982.69 678.16l10.18 10.18M982.69 688.34l10.18 -10.18M990.23 675.91l10.18 10.18M990.23 686.09l10.18 -10.18M997.57 676.66l10.18 10.18M997.57 686.84l10.18 -10.18M1004.72 678.61l10.18 10.18M1004.72 688.79l10.18 -10.18M1011.68 681.16l10.18 10.18M1011.68 691.34l10.18 -10.18M1018.48 684.91l10.18 10.18M1018.48 695.09l10.18 -10.18M1025.11 688.66l10.18 10.18M1025.11 698.84l10.18 -10.18M1031.58 689.64l10.18 10.18M1031.58 699.82l10.18 -10.18M1037.91 690.6l10.18 10.18M1037.91 700.78l10.18 -10.18M1044.09 691.54l10.18 10.18M1044.09 701.72l10.18 -10.18M1050.14 691.82l10.18 10.18M1050.14 702l10.18 -10.18M1056.06 691.99l10.18 10.18M1056.06 702.18l10.18 -10.18M1061.85 692.17l10.18 10.18M1061.85 702.35l10.18 -10.18M1067.53 692.34l10.18 10.18M1067.53 702.52l10.18 -10.18M1073.09 692.79l10.18 10.18M1073.09 702.97l10.18 -10.18M1078.54 693.44l10.18 10.18M1078.54 703.63l10.18 -10.18M1083.88 694.09l10.18 10.18M1083.88 704.27l10.18 -10.18M1089.12 694.71l10.18 10.18M1089.12 704.9l10.18 -10.18M1094.26 695.33l10.18 10.18M1094.26 705.51l10.18 -10.18M1099.31 696.23l10.18 10.18M1099.31 706.42l10.18 -10.18M1104.27 697.16l10.18 10.18M1104.27 707.35l10.18 -10.18M1109.14 698.08l10.18 10.18M1109.14 708.26l10.18 -10.18M1113.93 698.98l10.18 10.18M1113.93 709.16l10.18 -10.18M1118.63 699.66l10.18 10.18M1118.63 709.84l10.18 -10.18M1123.26 700.28l10.18 10.18M1123.26 710.46l10.18 -10.18M1127.81 700.88l10.18 10.18M1127.81 711.07l10.18 -10.18M1132.28 702.2l10.18 10.18M1132.28 712.38l10.18 -10.18M1136.68 703.49l10.18 10.18M1136.68 713.67l10.18 -10.18M1141.02 704.77l10.18 10.18M1141.02 714.95l10.18 -10.18M1145.28 706.04l10.18 10.18M1145.28 716.23l10.18 -10.18M1149.48 707.57l10.18 10.18M1149.48 717.75l10.18 -10.18M1153.62 709.07l10.18 10.18M1153.62 719.25l10.18 -10.18M1157.7 710.54l10.18 10.18M1157.7 720.72l10.18 -10.18M1161.72 712l10.18 10.18M1161.72 722.18l10.18 -10.18M1165.68 713.72l10.18 10.18M1165.68 723.9l10.18 -10.18M1169.58 715.49l10.18 10.18M1169.58 725.67l10.18 -10.18M1173.43 717.24l10.18 10.18M1173.43 727.42l10.18 -10.18M1177.22 718.73l10.18 10.18M1177.22 728.91l10.18 -10.18M1180.97 720.05l10.18 10.18M1180.97 730.23l10.18 -10.18M1184.66 721.35l10.18 10.18M1184.66 731.53l10.18 -10.18M1188.31 722.64l10.18 10.18M1188.31 732.82l10.18 -10.18M1191.9 723.91l10.18 10.18M1191.9 734.09l10.18 -10.18M1195.45 724.61l10.18 10.18M1195.45 734.8l10.18 -10.18M1198.96 725.31l10.18 10.18M1198.96 735.49l10.18 -10.18M1202.42 726l10.18 10.18M1202.42 736.18l10.18 -10.18M1205.84 726.68l10.18 10.18M1205.84 736.86l10.18 -10.18M1209.22 727.35l10.18 10.18M1209.22 737.53l10.18 -10.18M1212.55 728.01l10.18 10.18M1212.55 738.19l10.18 -10.18M1215.85 728.66l10.18 10.18M1215.85 738.85l10.18 -10.18M1219.1 729.31l10.18 10.18M1219.1 739.49l10.18 -10.18M1222.32 729.95l10.18 10.18M1222.32 740.13l10.18 -10.18M1225.5 730.58l10.18 10.18M1225.5 740.77l10.18 -10.18"/></g></g>
<g stroke="#00ff00"><polyline stroke-width="4" points="826.04,902 839.46,906.5 852.26,910.5 864.49,914 876.21,917 887.44,918.48 898.23,919.89 908.62,921.26 918.63,922.15 928.28,922.8 937.61,923.43 946.63,924.04 955.37,924.63 963.84,925.21 972.05,925.84 980.03,926.5 987.78,927.15 995.32,927.77 1002.66,928.38 1009.81,928.97 1016.77,929.55 1023.57,929.85 1030.2,929.71 1036.68,929.57 1043,929.8 1049.19,930.42 1055.23,931.02 1061.15,931.88 1066.94,933.81 1072.62,935.71 1078.18,937.32 1083.63,938.73 1088.97,940.11 1094.21,941.47 1099.36,942.8 1104.41,944.07 1109.36,944.89 1114.23,945.71 1119.02,946.5 1123.72,947.43 1128.35,948.59 1132.9,949.72 1137.37,950.84 1141.77,952.22 1146.11,953.99 1150.37,955.72 1154.58,957.43 1158.71,959.12 1162.79,960.78 1166.81,962.37 1170.77,963.83 1174.67,965.27 1178.52,966.69 1182.32,968.09 1186.06,969.47 1189.75,970.83 1193.4,972.17 1196.99,973.5 1200.55,974.29 1204.05,975.07 1207.51,975.85 1210.93,976.61 1214.31,977.36 1217.64,978.11 1220.94,978.84 1224.19,979.57 1227.41,980.29 1230.59,981"/><g transform="scale(1 1.3333333333333333)"><path d="M820.54 671.25h11v10.5h-11ZM833.96 674.62h11v10.5h-11ZM846.76 677.62h11v10.5h-11ZM858.99 680.25h11v10.5h-11ZM870.71 682.5h11v10.5h-11ZM881.94 683.61h11v10.5h-11ZM892.73 684.67h11v10.5h-11ZM903.12 685.69h11v10.5h-11ZM913.13 686.36h11v10.5h-11ZM922.78 686.85h11v10.5h-11ZM932.11 687.32h11v10.5h-11ZM941.13 687.78h11v10.5h-11ZM949.87 688.23h11v10.5h-11ZM958.34 688.65h11v10.5h-11ZM966.55 689.13h11v10.5h-11ZM974.53 689.63h11v10.5h-11ZM982.28 690.11h11v10.5h-11ZM989.82 690.58h11v10.5h-11ZM997.16 691.04h11v10.5h-11ZM1004.31 691.48h11v10.5h-11ZM1011.27 691.91h11v10.5h-11ZM1018.07 692.13h11v10.5h-11ZM1024.7 692.03h11v10.5h-11ZM1031.18 691.93h11v10.5h-11ZM1037.5 692.1h11v10.5h-11ZM1043.69 692.56h11v10.5h-11ZM1049.73 693.02h11v10.5h-11ZM1055.65 693.66h11v10.5h-11ZM1061.44 695.11h11v10.5h-11ZM1067.12 696.53h11v10.5h-11ZM1072.68 697.74h11v10.5h-11ZM1078.13 698.8h11v10.5h-11ZM1083.47 699.83h11v10.5h-11ZM1088.71 700.85h11v10.5h-11ZM1093.86 701.85h11v10.5h-11ZM1098.91 702.8h11v10.5h-11ZM1103.86 703.42h11v10.5h-11ZM1108.73 704.03h11v10.5h-11ZM1113.52 704.63h11v10.5h-11ZM1118.22 705.32h11v10.5h-11ZM1122.85 706.19h11v10.5h-11ZM1127.4 707.04h11v10.5h-11ZM1131.87 707.88h11v10.5h-11ZM1136.27 708.92h11v10.5h-11ZM1140.61 710.24h11v10.5h-11ZM1144.87 711.54h11v10.5h-11ZM1149.08 712.82h11v10.5h-11ZM1153.21 714.09h11v10.5h-11ZM1157.29 715.33h11v10.5h-11ZM1161.31 716.53h11v10.5h-11ZM1165.27 717.62h11v10.5h-11ZM1169.17 718.7h11v10.5h-11ZM1173.02 719.77h11v10.5h-11ZM1176.82 720.82h11v10.5h-11ZM1180.56 721.85h11v10.5h-11ZM1184.25 722.87h11v10.5h-11ZM1187.9 723.88h11v10.5h-11ZM1191.49 724.87h11v10.5h-11ZM1195.05 725.47h11v10.5h-11ZM1198.55 726.06h11v10.5h-11ZM1202.01 726.63h11v10.5h-11ZM1205.43 727.21h11v10.5h-11ZM1208.81 727.77h11v10.5h-11ZM1212.14 728.33h11v10.5h-11ZM1215.44 728.88h11v10.5h-11ZM1218.69 729.43h11v10.5h-11ZM1221.91 729.97h11v10.5h-11ZM1225.09 730.5h11v10.5h-11Z"/></g></g>
<g stroke="#ff0000"><polyline stroke-width="4" points="383.15,688.8 444.56,673.4 494.73,687.9 537.15,715 573.89,746.7 606.3,773.2 635.3,801.5 661.52,819.6 685.47,836.5 707.49,853 727.89,867.3 746.87,878.6 764.63,887.5 781.31,895 797.04,900 811.92,903.8 826.04,907.6 839.46,910.5 852.26,913.5 864.49,917 876.21,918.8"/><g transform="scale(1 1.3333333333333333)"><path d="M375.65 516.6h15M383.15 509.1v15M437.06 505.05h15M444.56 497.55v15M487.23 515.93h15M494.73 508.43v15M529.65 536.25h15M537.15 528.75v15M566.39 560.03h15M573.89 552.53v15M598.8 579.9h15M606.3 572.4v15M627.8 601.12h15M635.3 593.62v15M654.02 614.7h15M661.52 607.2v15M677.97 627.38h15M685.47 619.88v15M699.99 639.75h15M707.49 632.25v15M720.39 650.48h15M727.89 642.98v15M739.37 658.95h15M746.87 651.45v15M757.13 665.62h15M764.63 658.12v15M773.81 671.25h15M781.31 663.75v15M789.54 675h15M797.04 667.5v15M804.42 677.85h15M811.92 670.35v15M818.54 680.7h15M826.04 673.2v15M831.96 682.88h15M839.46 675.38v15M844.76 685.12h15M852.26 677.62v15M856.99 687.75h15M864.49 680.25v15M868.71 689.1h15M876.21 681.6v15"/><path stroke-width="4" d="M378.06 511.51l10.18 10.18M378.06 521.69l10.18 -10.18M439.47 499.96l10.18 10.18M439.47 510.14l10.18 -10.18M489.64 510.83l10.18 10.18M489.64 521.02l10.18 -10.18M532.06 531.16l10.18 10.18M532.06 541.34l10.18 -10.18M568.8 554.93l10.18 10.18M568.8 565.12l10.18 -10.18M601.21 574.81l10.18 10.18M601.21 584.99l10.18 -10.18M630.21 596.03l10.18 10.18M630.21 606.22l10.18 -10.18M656.43 609.61l10.18 10.18M656.43 619.79l10.18 -10.18M680.38 622.28l10.18 10.18M680.38 632.47l10.18 -10.18M702.4 634.66l10.18 10.18M702.4 644.84l10.18 -10.18M722.8 645.38l10.18 10.18M722.8 655.57l10.18 -10.18M741.78 653.86l10.18 10.18M741.78 664.04l10.18 -10.18M759.54 660.53l10.18 10.18M759.54 670.72l10.18 -10.18M776.22 666.16l10.18 10.18M776.22 676.34l10.18 -10.18M791.95 669.91l10.18 10.18M791.95 680.09l10.18 -10.18M806.83 672.76l10.18 10.18M806.83 682.94l10.18 -10.18M820.94 675.61l10.18 10.18M820.94 685.79l10.18 -10.18M834.37 677.78l10.18 10.18M834.37 687.97l10.18 -10.18M847.17 680.03l10.18 10.18M847.17 690.22l10.18 -10.18M859.4 682.66l10.18 10.18M859.4 692.84l10.18 -10.18M871.12 684.01l10.18 10.18M871.12 694.19l10.18 -10.18"/></g></g>
<g stroke="#ff0000"><polyline stroke-width="4" points="946.63,921.5 955.37,921.75 963.84,922 972.05,922 980.03,920.99 987.78,919.44 995.32,918.2 1002.66,917.92 1009.81,919.06 1016.77,920.17 1023.57,921.48 1030.2,923.51 1036.68,925.48 1043,926.95 1049.19,927.88 1055.23,928.78 1061.15,929.69 1066.94,930.66 1072.62,931.6 1078.18,932.55 1083.63,934.03 1088.97,935.49 1094.21,936.92 1099.36,938.32 1104.41,940.5 1109.36,942.76 1114.23,944.97 1119.02,947.15 1123.72,949.13 1128.35,950.82 1132.9,952.48 1137.37,954.12 1141.77,955.72 1146.11,957.31 1150.37,958.87 1154.58,960.4 1158.71,961.91 1162.79,963.4 1166.81,964.82 1170.77,966.05 1174.67,967.27 1178.52,968.47 1182.32,969.66 1186.06,970.75 1189.75,971.61 1193.4,972.46 1196.99,973.3 1200.55,974.12 1204.05,974.93 1207.51,975.72 1210.93,976.5 1214.31,977.27 1217.64,978.04 1220.94,978.79 1224.19,979.53 1227.41,980.27 1230.59,981"/><g transform="scale(1 1.3333333333333333)"><path d="M939.13 691.13h15M946.63 683.63v15M947.87 691.32h15M955.37 683.82v15M956.34 691.5h15M963.84 684v15M964.55 691.5h15M972.05 684v15M972.53 690.75h15M980.03 683.25v15M980.28 689.58h15M987.78 682.08v15M987.82 688.65h15M995.32 681.15v15M995.16 688.44h15M1002.66 680.94v15M1002.31 689.3h15M1009.81 681.8v15M1009.27 690.13h15M1016.77 682.63v15M1016.07 691.11h15M1023.57 683.61v15M1022.7 692.63h15M1030.2 685.13v15M1029.18 694.11h15M1036.68 686.61v15M1035.5 695.21h15M1043 687.71v15M1041.69 695.91h15M1049.19 688.41v15M1047.73 696.59h15M1055.23 689.09v15M1053.65 697.27h15M1061.15 689.77v15M1059.44 697.99h15M1066.94 690.49v15M1065.12 698.7h15M1072.62 691.2v15M1070.68 699.41h15M1078.18 691.91v15M1076.13 700.53h15M1083.63 693.03v15M1081.47 701.62h15M1088.97 694.12v15M1086.71 702.69h15M1094.21 695.19v15M1091.86 703.74h15M1099.36 696.24v15M1096.91 705.38h15M1104.41 697.88v15M1101.86 707.07h15M1109.36 699.57v15M1106.73 708.73h15M1114.23 701.23v15M1111.52 710.36h15M1119.02 702.86v15M1116.22 711.85h15M1123.72 704.35v15M1120.85 713.11h15M1128.35 705.61v15M1125.4 714.36h15M1132.9 706.86v15M1129.87 715.59h15M1137.37 708.09v15M1134.27 716.79h15M1141.77 709.29v15M1138.61 717.98h15M1146.11 710.48v15M1142.87 719.15h15M1150.37 711.65v15M1147.08 720.3h15M1154.58 712.8v15M1151.21 721.43h15M1158.71 713.93v15M1155.29 722.55h15M1162.79 715.05v15M1159.31 723.61h15M1166.81 716.11v15M1163.27 724.54h15M1170.77 717.04v15M1167.17 725.45h15M1174.67 717.95v15M1171.02 726.36h15M1178.52 718.86v15M1174.82 727.25h15M1182.32 719.75v15M1178.56 728.06h15M1186.06 720.56v15M1182.25 728.71h15M1189.75 721.21v15M1185.9 729.34h15M1193.4 721.84v15M1189.49 729.97h15M1196.99 722.47v15M1193.05 730.59h15M1200.55 723.09v15M1196.55 731.2h15M1204.05 723.7v15M1200.01 731.79h15M1207.51 724.29v15M1203.43 732.38h15M1210.93 724.88v15M1206.81 732.95h15M1214.31 725.45v15M1210.14 733.53h15M1217.64 726.03v15M1213.44 734.09h15M1220.94 726.59v15M1216.69 734.65h15M1224.19 727.15v15M1219.91 735.2h15M1227.41 727.7v15M1223.09 735.75h15M1230.59 728.25v15"/><path stroke-width="4" d="M941.54 686.03l10.18 10.18M941.54 696.22l10.18 -10.18M950.28 686.23l10.18 10.18M950.28 696.41l10.18 -10.18M958.75 686.41l10.18 10.18M958.75 696.59l10.18 -10.18M966.96 686.41l10.18 10.18M966.96 696.59l10.18 -10.18M974.94 685.65l10.18 10.18M974.94 695.84l10.18 -10.18M982.69 684.49l10.18 10.18M982.69 694.67l10.18 -10.18M990.23 683.56l10.18 10.18M990.23 693.74l10.18 -10.18M997.57 683.35l10.18 10.18M997.57 693.53l10.18 -10.18M1004.72 684.2l10.18 10.18M1004.72 694.39l10.18 -10.18M1011.68 685.04l10.18 10.18M1011.68 695.22l10.18 -10.18M1018.48 686.02l10.18 10.18M1018.48 696.2l10.18 -10.18M1025.11 687.54l10.18 10.18M1025.11 697.72l10.18 -10.18M1031.58 689.02l10.18 10.18M1031.58 699.2l10.18 -10.18M1037.91 690.12l10.18 10.18M1037.91 700.3l10.18 -10.18M1044.09 690.82l10.18 10.18M1044.09 701l10.18 -10.18M1050.14 691.5l10.18 10.18M1050.14 701.68l10.18 -10.18M1056.06 692.18l10.18 10.18M1056.06 702.36l10.18 -10.18M1061.85 692.9l10.18 10.18M1061.85 703.08l10.18 -10.18M1067.53 693.61l10.18 10.18M1067.53 703.79l10.18 -10.18M1073.09 694.32l10.18 10.18M1073.09 704.5l10.18 -10.18M1078.54 695.43l10.18 10.18M1078.54 705.62l10.18 -10.18M1083.88 696.53l10.18 10.18M1083.88 706.71l10.18 -10.18M1089.12 697.6l10.18 10.18M1089.12 707.78l10.18 -10.18M1094.26 698.65l10.18 10.18M1094.26 708.83l10.18 -10.18M1099.31 700.29l10.18 10.18M1099.31 710.47l10.18 -10.18M1104.27 701.98l10.18 10.18M1104.27 712.16l10.18 -10.18M1109.14 703.64l10.18 10.18M1109.14 713.82l10.18 -10.18M1113.93 705.27l10.18 10.18M1113.93 715.45l10.18 -10.18M1118.63 706.76l10.18 10.18M1118.63 716.94l10.18 -10.18M1123.26 708.02l10.18 10.18M1123.26 718.21l10.18 -10.18M1127.81 709.27l10.18 10.18M1127.81 719.45l10.18 -10.18M1132.28 710.5l10.18 10.18M1132.28 720.68l10.18 -10.18M1136.68 711.7l10.18 10.18M1136.68 721.88l10.18 -10.18M1141.02 712.89l10.18 10.18M1141.02 723.07l10.18 -10.18M1145.28 714.06l10.18 10.18M1145.28 724.24l10.18 -10.18M1149.48 715.21l10.18 10.18M1149.48 725.39l10.18 -10.18M1153.62 716.34l10.18 10.18M1153.62 726.52l10.18 -10.18M1157.7 717.46l10.18 10.18M1157.7 727.64l10.18 -10.18M1161.72 718.52l10.18 10.18M1161.72 728.7l10.18 -10.18M1165.68 719.45l10.18 10.18M1165.68 729.63l10.18 -10.18M1169.58 720.36l10.18 10.18M1169.58 730.55l10.18 -10.18M1173.43 721.27l10.18 10.18M1173.43 731.45l10.18 -10.18M1177.22 722.15l10.18 10.18M1177.22 732.34l10.18 -10.18M1180.97 722.97l10.18 10.18M1180.97 733.15l10.18 -10.18M1184.66 723.62l10.18 10.18M1184.66 733.8l10.18 -10.18M1188.31 724.25l10.18 10.18M1188.31 734.44l10.18 -10.18M1191.9 724.88l10.18 10.18M1191.9 735.07l10.18 -10.18M1195.45 725.5l10.18 10.18M1195.45 735.68l10.18 -10.18M1198.96 726.1l10.18 10.18M1198.96 736.29l10.18 -10.18M1202.42 726.7l10.18 10.18M1202.42 736.88l10.18 -10.18M1205.84 727.28l10.18 10.18M1205.84 737.47l10.18 -10.18M1209.22 727.86l10.18 10.18M1209.22 738.05l10.18 -10.18M1212.55 728.44l10.18 10.18M1212.55 738.62l10.18 -10.18M1215.85 729l10.18 10.18M1215.85 739.18l10.18 -10.18M1219.1 729.56l10.18 10.18M1219.1 739.74l10.18 -10.18M1222.32 730.11l10.18 10.18M1222.32 740.29l10.18 -10.18M1225.5 730.66l10.18 10.18M1225.5 740.84l10.18 -10.18"/></g></g>
<g stroke="#0000ff"><polyline stroke-width="4" points="383.15,529 444.56,378.4 494.73,324.1 537.15,357 573.89,435.3 606.3,524.3 635.3,605.3 661.52,672.3 685.47,723 707.49,761.8 727.89,795.2 746.87,824.7 764.63,846.8 781.31,863 797.04,872 811.92,877.5 826.04,878.8 839.46,884.9 852.26,892 864.49,898 876.21,901.2 887.44,904.7 898.23,906.5 908.62,905.9 918.63,907.1 928.28,908.3 937.61,909.52 946.63,909.98 955.37,909.76 963.84,909.96 972.05,911.18 980.03,912.26 987.78,912.98 995.32,913.68 1002.66,914.37 1009.81,916.08 1016.77,917.79 1023.57,919.6 1030.2,922.59 1036.68,925.38 1043,926.47 1049.19,927.54 1055.23,928.14 1061.15,928.58 1066.94,929.01 1072.62,929.44 1078.18,930.16 1083.63,931.06 1088.97,931.95 1094.21,934.11 1099.36,936.06 1104.41,937.69 1109.36,939.29 1114.23,940.86 1119.02,942.41 1123.72,944 1128.35,945.73 1132.9,947.44 1137.37,949.12 1141.77,950.78 1146.11,952.4 1150.37,954.01 1154.58,955.58 1158.71,957.14 1162.79,958.67 1166.81,960.21 1170.77,961.8 1174.67,963.38 1178.52,964.93 1182.32,966.46 1186.06,967.97 1189.75,969.46 1193.4,970.93 1196.99,972.01 1200.55,972.83 1204.05,973.64 1207.51,974.45 1210.93,975.24 1214.31,976.02 1217.64,976.8 1220.94,977.56 1224.19,978.32 1227.41,979.06 1230.59,979.8"/><g transform="scale(1 1.3333333333333333)"><path stroke-width="3.3" d="M373.59 396.75L387.94 389.55L387.94 403.95ZM434.99 283.8L449.34 276.6L449.34 291ZM485.16 243.08L499.51 235.88L499.51 250.28ZM527.58 267.75L541.93 260.55L541.93 274.95ZM564.33 326.48L578.68 319.28L578.68 333.68ZM596.74 393.22L611.09 386.02L611.09 400.42ZM625.73 453.97L640.08 446.77L640.08 461.17ZM651.96 504.22L666.31 497.02L666.31 511.42ZM675.9 542.25L690.25 535.05L690.25 549.45ZM697.93 571.35L712.28 564.15L712.28 578.55ZM718.32 596.4L732.67 589.2L732.67 603.6ZM737.31 618.53L751.66 611.33L751.66 625.73ZM755.06 635.1L769.41 627.9L769.41 642.3ZM771.75 647.25L786.1 640.05L786.1 654.45ZM787.48 654L801.83 646.8L801.83 661.2ZM802.35 658.12L816.7 650.92L816.7 665.33ZM816.47 659.1L830.82 651.9L830.82 666.3ZM829.89 663.68L844.24 656.48L844.24 670.88ZM842.7 669L857.05 661.8L857.05 676.2ZM854.93 673.5L869.28 666.3L869.28 680.7ZM866.64 675.9L880.99 668.7L880.99 683.1ZM877.87 678.53L892.22 671.33L892.22 685.73ZM888.67 679.88L903.02 672.67L903.02 687.08ZM899.05 679.43L913.4 672.23L913.4 686.63ZM909.06 680.33L923.41 673.12L923.41 687.53ZM918.71 681.23L933.06 674.02L933.06 688.43ZM928.04 682.14L942.39 674.94L942.39 689.34ZM937.07 682.49L951.42 675.29L951.42 689.69ZM945.8 682.32L960.15 675.12L960.15 689.52ZM954.27 682.47L968.62 675.27L968.62 689.67ZM962.49 683.38L976.84 676.18L976.84 690.58ZM970.46 684.2L984.81 677L984.81 691.4ZM978.21 684.74L992.56 677.54L992.56 691.94ZM985.75 685.26L1000.1 678.06L1000.1 692.46ZM993.09 685.78L1007.44 678.58L1007.44 692.98ZM1000.24 687.06L1014.59 679.86L1014.59 694.26ZM1007.21 688.34L1021.56 681.14L1021.56 695.54ZM1014 689.7L1028.35 682.5L1028.35 696.9ZM1020.63 691.94L1034.98 684.74L1034.98 699.14ZM1027.11 694.04L1041.46 686.84L1041.46 701.24ZM1033.43 694.85L1047.78 687.65L1047.78 702.05ZM1039.62 695.65L1053.97 688.45L1053.97 702.85ZM1045.67 696.1L1060.02 688.9L1060.02 703.3ZM1051.58 696.44L1065.93 689.24L1065.93 703.64ZM1057.38 696.76L1071.73 689.56L1071.73 703.96ZM1063.05 697.08L1077.4 689.88L1077.4 704.28ZM1068.61 697.62L1082.96 690.42L1082.96 704.82ZM1074.06 698.3L1088.41 691.1L1088.41 705.5ZM1079.4 698.96L1093.75 691.76L1093.75 706.16ZM1084.65 700.58L1099 693.38L1099 707.78ZM1089.79 702.05L1104.14 694.85L1104.14 709.25ZM1094.84 703.27L1109.19 696.07L1109.19 710.47ZM1099.8 704.47L1114.15 697.27L1114.15 711.67ZM1104.67 705.65L1119.02 698.45L1119.02 712.85ZM1109.45 706.81L1123.8 699.61L1123.8 714.01ZM1114.16 708L1128.51 700.8L1128.51 715.2ZM1118.78 709.3L1133.13 702.1L1133.13 716.5ZM1123.33 710.58L1137.68 703.38L1137.68 717.78ZM1127.81 711.84L1142.16 704.64L1142.16 719.04ZM1132.21 713.08L1146.56 705.88L1146.56 720.28ZM1136.54 714.3L1150.89 707.1L1150.89 721.5ZM1140.81 715.5L1155.16 708.3L1155.16 722.7ZM1145.01 716.69L1159.36 709.49L1159.36 723.89ZM1149.15 717.85L1163.5 710.65L1163.5 725.05ZM1153.22 719L1167.57 711.8L1167.57 726.2ZM1157.24 720.16L1171.59 712.96L1171.59 727.36ZM1161.2 721.35L1175.55 714.15L1175.55 728.55ZM1165.1 722.53L1179.45 715.33L1179.45 729.73ZM1168.95 723.7L1183.3 716.5L1183.3 730.9ZM1172.75 724.85L1187.1 717.65L1187.1 732.05ZM1176.49 725.98L1190.84 718.78L1190.84 733.18ZM1180.19 727.1L1194.54 719.9L1194.54 734.3ZM1183.83 728.2L1198.18 721L1198.18 735.4ZM1187.43 729.01L1201.78 721.81L1201.78 736.21ZM1190.98 729.62L1205.33 722.42L1205.33 736.82ZM1194.48 730.23L1208.83 723.03L1208.83 737.43ZM1197.95 730.84L1212.3 723.64L1212.3 738.04ZM1201.36 731.43L1215.71 724.23L1215.71 738.63ZM1204.74 732.02L1219.09 724.82L1219.09 739.22ZM1208.08 732.6L1222.43 725.4L1222.43 739.8ZM1211.37 733.17L1225.72 725.97L1225.72 740.37ZM1214.63 733.74L1228.98 726.54L1228.98 740.94ZM1217.85 734.3L1232.2 727.1L1232.2 741.5ZM1221.03 734.85L1235.38 727.65L1235.38 742.05Z"/></g></g>
</g>
<g font-family="'Liberation Sans',Arial,Helvetica,sans-serif" font-size="47" fill="#262626" opacity="0.999"><text transform="translate(194.2 1000.6) scale(0.989 1.025)" text-anchor="end">0</text><text transform="translate(195.4 811.28) scale(0.989 1.025)" text-anchor="end">0.05</text><text transform="translate(195.4 621.96) scale(0.989 1.025)" text-anchor="end">0.1</text><text transform="translate(195.4 432.64) scale(0.989 1.025)" text-anchor="end">0.15</text><text transform="translate(195.4 243.32) scale(0.989 1.025)" text-anchor="end">0.2</text><text transform="translate(195.4 54) scale(0.989 1.025)" text-anchor="end">0.25</text><text transform="translate(611.4 1042.9) scale(0.989 1.025)">10</text><text transform="translate(664.3 1019.3) scale(0.989 1.025)" font-size="37.6">2</text><text transform="translate(1243.2 1042.9) scale(0.989 1.025)">10</text><text transform="translate(1296.1 1019.3) scale(0.989 1.025)" font-size="37.6">3</text></g>
<g font-family="'Liberation Serif','Times New Roman',serif" font-style="italic" font-size="100" opacity="0.999" fill="#000" stroke="#000" stroke-width="0.6" stroke-linejoin="round"><text transform="matrix(0.5453 0 0 0.5985 726.83 1051.03)">y</text><text transform="matrix(0.7349 0 0 0.5830 754.73 1050.62)">u</text><text transform="matrix(0.6611 0 0 0.4796 790.65 1061.32)">τ</text><text transform="matrix(0.5119 0 0 0.4385 818.55 1061.36)" font-style="normal">0</text><text transform="matrix(0.7093 0 0 0.6129 767.54 1135.89)">ν</text><rect x="721" y="1076" width="125.2" height="3" stroke="none"/><text transform="matrix(0.5312 0 0 0.5137 15.54 464.49)">ω</text><rect x="21.9" y="433.8" width="28.7" height="2" stroke="none"/><text transform="matrix(0.4312 0 0 0.3609 52.73 473)">z</text><text transform="matrix(0.6093 0 0 0.5247 75.79 464.08)">ν</text><rect x="16.9" y="484.9" width="88" height="2.8" stroke="none"/><text transform="matrix(0.6410 0 0 0.5340 20 537.37)">u</text><text transform="matrix(0.4475 0 0 0.3470 51.39 516.1)" font-style="normal">2</text><text transform="matrix(0.5750 0 0 0.3441 51.66 550.06)">τ</text><text transform="matrix(0.4333 0 0 0.3467 75.47 550.85)" font-style="normal">0</text></g>
</svg>
</body></html>
